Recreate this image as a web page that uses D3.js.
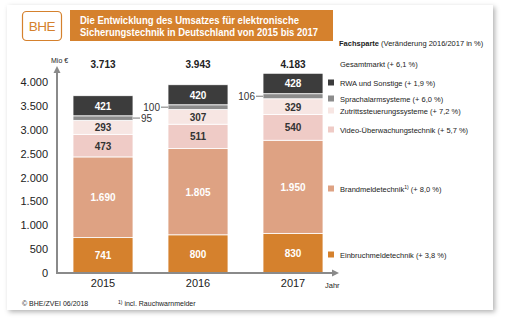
<!DOCTYPE html>
<html><head><meta charset="utf-8">
<script src="https://cdn.jsdelivr.net/npm/d3@7"></script>
<style>body{margin:0;background:#fff;}svg{display:block;font-family:"Liberation Sans",Arial,sans-serif;}</style>
</head><body>
<script>
const years = ["2015","2016","2017"];
const totals = [3713, 3943, 4183];
const seriesNames = ["Einbruchmeldetechnik (+ 3,8 %)","Brandmeldetechnik","Video-Überwachungstechnik (+ 5,7 %)","Zutrittssteuerungssysteme (+ 7,2 %)","Sprachalarmsysteme (+ 6,0 %)","RWA und Sonstige (+ 1,9 %)"];
const einbruch = [741, 800, 830];
const brand = [1690, 1805, 1950];
const video = [473, 511, 540];
const zutritt = [293, 307, 329];
const sprach = [95, 100, 106];
const rwa = [421, 420, 428];
const colors = ["#d5812d","#dea283","#efcbc6","#f7e6e3","#8c8c8c","#3c3c3c"];
const textColors = ["#fff","#fff","#333","#333","#333","#fff"];
const yTicks = [0,500,1000,1500,2000,2500,3000,3500,4000];
const legendY = [255,189,130,111,99,83];

const W=506,H=324;
const svg=d3.select("body").append("svg").attr("width",W).attr("height",H);
const defs=svg.append("defs");
const f=defs.append("filter").attr("id","sh").attr("x","-5%").attr("y","-5%").attr("width","115%").attr("height","115%");
f.append("feDropShadow").attr("dx",2).attr("dy",2).attr("stdDeviation",2.5).attr("flood-color","#000").attr("flood-opacity",0.3);
svg.append("rect").attr("x",7).attr("y",5).attr("width",486).attr("height",305).attr("fill","#fff").attr("filter","url(#sh)");

// logo
svg.append("rect").attr("x",22.5).attr("y",11.5).attr("width",39).attr("height",29).attr("rx",4).attr("fill","#fff").attr("stroke","#d5812d").attr("stroke-width",1.2);
svg.append("text").attr("x",42).attr("y",31).attr("text-anchor","middle").attr("fill","#d5812d").attr("font-size",13.5).attr("letter-spacing",-0.5).text("BHE");
// title
svg.append("rect").attr("x",70).attr("y",10).attr("width",263).attr("height",31).attr("fill","#d5812d");
svg.append("text").attr("x",80).attr("y",23.5).attr("fill","#fff").attr("font-weight","bold").attr("font-size",10.5)
  .attr("textLength",219).attr("lengthAdjust","spacingAndGlyphs").text("Die Entwicklung des Umsatzes für elektronische");
svg.append("text").attr("x",80).attr("y",36).attr("fill","#fff").attr("font-weight","bold").attr("font-size",10.5)
  .attr("textLength",238).attr("lengthAdjust","spacingAndGlyphs").text("Sicherungstechnik in Deutschland von 2015 bis 2017");

const loc=d3.formatLocale({decimal:",",thousands:".",grouping:[3],currency:["","€"]});
const fmt=loc.format(",");

const y=d3.scaleLinear().domain([0,4000]).range([273,82]);
const x=d3.scaleBand().domain(years).range([73,323]).paddingInner(1-60/95).paddingOuter(0);

// y axis
const ya=svg.append("g").attr("transform","translate(48,0)").call(d3.axisLeft(y).tickValues(yTicks).tickSize(0).tickPadding(0).tickFormat(fmt));
ya.select(".domain").remove();
ya.selectAll("text").attr("font-size",11).attr("fill","#222").attr("font-family","Liberation Sans, Arial, sans-serif");
svg.append("text").attr("x",51).attr("y",63).attr("font-size",7).attr("fill","#222").text("Mio €");

// stacked data
const series=[einbruch,brand,video,zutritt,sprach,rwa];
const rows=years.map((yr,i)=>{const o={year:yr};series.forEach((s,k)=>o["s"+k]=s[i]);return o;});
const stack=d3.stack().keys(series.map((s,k)=>"s"+k))(rows);

const g=svg.append("g");
stack.forEach((layer,k)=>{
  g.selectAll(null).data(layer).enter().append("rect")
   .attr("x",d=>x(d.data.year)).attr("width",x.bandwidth())
   .attr("y",d=>y(d[1])).attr("height",d=>y(d[0])-y(d[1]))
   .attr("fill",colors[k]).attr("stroke","#fff").attr("stroke-width",0.8);
  if(k!==4){
    g.selectAll(null).data(layer).enter().append("text")
     .attr("x",d=>x(d.data.year)+x.bandwidth()/2).attr("y",d=>(y(d[0])+y(d[1]))/2+4)
     .attr("text-anchor","middle").attr("font-size",10).attr("font-weight","bold").attr("fill",textColors[k])
     .text(d=>fmt(d[1]-d[0]));
  }
});
// sprach labels with leaders
const sl=stack[4];
sl.forEach((d,i)=>{
  const yc=(y(d[0])+y(d[1]))/2;
  const x0=x(d.data.year), x1=x0+x.bandwidth();
  if(i===0){
    svg.append("line").attr("x1",x1).attr("x2",x1+7).attr("y1",yc).attr("y2",yc).attr("stroke","#777").attr("stroke-width",1);
    svg.append("text").attr("x",x1+8).attr("y",yc+3.5).attr("font-size",10).attr("fill","#333").text(fmt(d[1]-d[0]));
  } else {
    svg.append("line").attr("x1",x0-7).attr("x2",x0).attr("y1",yc).attr("y2",yc).attr("stroke","#777").attr("stroke-width",1);
    svg.append("text").attr("x",x0-8).attr("y",yc+3.5).attr("text-anchor","end").attr("font-size",10).attr("fill","#333").text(fmt(d[1]-d[0]));
  }
});
// totals
svg.selectAll(null).data(years).enter().append("text")
  .attr("x",d=>x(d)+x.bandwidth()/2).attr("y",68).attr("text-anchor","middle")
  .attr("font-size",10).attr("font-weight","bold").attr("fill","#222").text((d,i)=>fmt(totals[i]));

// axes lines with arrows
const ac="#8a8a8a";
svg.append("line").attr("x1",57).attr("x2",57).attr("y1",274).attr("y2",72).attr("stroke",ac).attr("stroke-width",2);
svg.append("path").attr("d","M53.5,73 L57,66 L60.5,73 Z").attr("fill",ac);
svg.append("line").attr("x1",56).attr("x2",333).attr("y1",273).attr("y2",273).attr("stroke",ac).attr("stroke-width",2);
svg.append("path").attr("d","M332,269.5 L339,273 L332,276.5 Z").attr("fill",ac);

// x labels
const xa=svg.append("g").attr("transform","translate(0,277)").call(d3.axisBottom(x).tickSize(0).tickPadding(0));
xa.select(".domain").remove();
xa.selectAll("text").attr("font-size",11).attr("fill","#222").attr("dy","0.9em").attr("font-family","Liberation Sans, Arial, sans-serif");
svg.append("text").attr("x",325).attr("y",288).attr("font-size",7.5).attr("fill","#222").text("Jahr");

// legend
svg.append("text").attr("x",339).attr("y",46).attr("font-size",7.5).attr("fill","#222")
  .call(t=>{t.append("tspan").attr("font-weight","bold").text("Fachsparte");t.append("tspan").text(" (Veränderung 2016/2017 in %)");});
svg.append("text").attr("x",340).attr("y",67).attr("font-size",7.5).attr("fill","#222").text("Gesamtmarkt (+ 6,1 %)");
seriesNames.forEach((n,k)=>{
  svg.append("rect").attr("x",328).attr("y",legendY[k]-3.5).attr("width",6).attr("height",6).attr("fill",colors[k]);
  const t=svg.append("text").attr("x",340).attr("y",legendY[k]+2.5).attr("font-size",7.5).attr("fill","#222");
  if(k===1){t.append("tspan").text("Brandmeldetechnik");t.append("tspan").attr("font-size",5).attr("dy",-3).text("1)");t.append("tspan").attr("dy",3).text(" (+ 8,0 %)");}
  else t.text(n);
});

// footer
svg.append("text").attr("x",22).attr("y",306).attr("font-size",7).attr("fill","#222").text("© BHE/ZVEI 06/2018");
const fn=svg.append("text").attr("x",118).attr("y",306).attr("font-size",7).attr("fill","#222");
fn.append("tspan").attr("font-size",5).attr("dy",-2.5).text("1)");
fn.append("tspan").attr("dy",2.5).text(" incl. Rauchwarnmelder");
</script>
</body></html>
